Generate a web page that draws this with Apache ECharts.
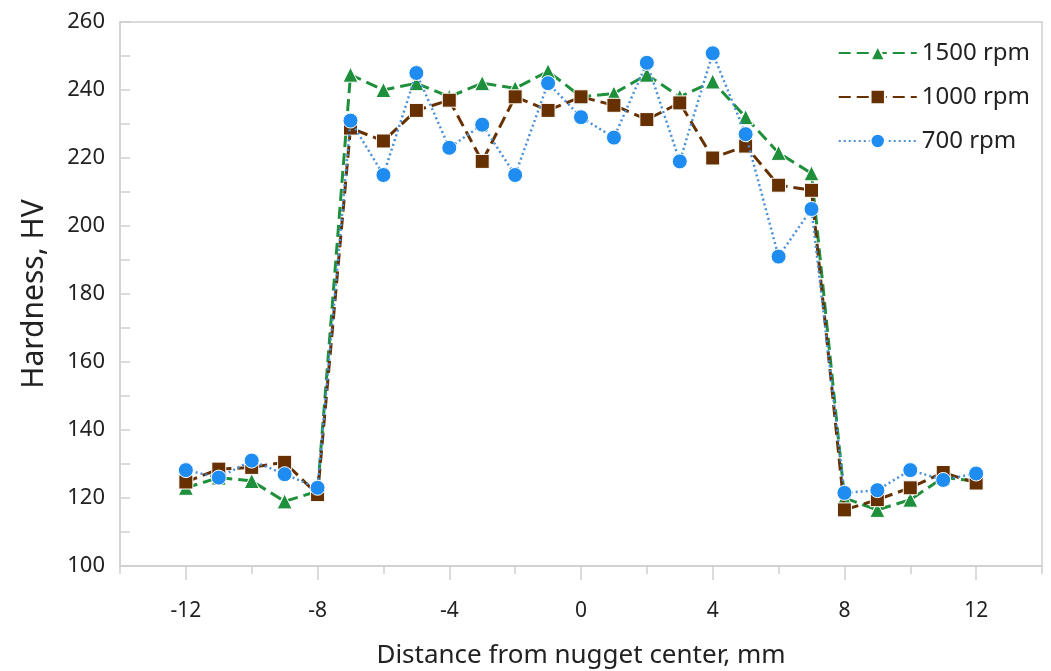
<!DOCTYPE html>
<html><head><meta charset="utf-8">
<script src="https://cdn.jsdelivr.net/npm/echarts@6/dist/echarts.min.js"></script>
<style>html,body{margin:0;padding:0;background:#fff}#c{width:1051px;height:671px}</style>
</head><body><div id="c"></div>
<script>
const distance = [-12,-11,-10,-9,-8,-7,-6,-5,-4,-3,-2,-1,0,1,2,3,4,5,6,7,8,9,10,11,12];
const rpm1500 = [123,126,125,119,122,244.5,240,242,238,242,240.5,245.5,238,239,244.5,238,242.5,232,221.5,215.5,120,116.5,119.5,126,125];
const rpm1000 = [124.7,128.5,129,130.5,121,228.8,225,234,237,219,238,234,238,235.5,231.3,236.2,220,223.5,212,210.5,116.5,119.5,123,127.5,124.4];
const rpm700  = [128.2,126,131,127,123,231,215,245,223,229.8,215,242,232,226,248,219,250.8,227,191,205,121.5,122.3,128.2,125.3,127.2];
const xLabelValues = [-12,-8,-4,0,4,8,12];
const xMinorTickValues = [-14,-10,-6,-2,2,6,10,14];
const yTickValues = [100,110,120,130,140,150,160,170,180,190,200,210,220,230,240,250,260];

const FONT = '"Noto Sans", "Open Sans", sans-serif';
const axisGray = '#d0d0d0';
const mk = (arr) => distance.map((d,i)=>[d,arr[i]]);

const chart = echarts.init(document.getElementById('c'));
chart.setOption({
  animation:false,
  backgroundColor:'#fff',
  textStyle:{fontFamily:FONT},
  grid:{left:120,right:9,top:22,bottom:105,show:true,borderColor:axisGray,borderWidth:1.5,
        containLabel:false,outerBoundsMode:'none'},
  legend:{
    orient:'vertical', right:16, top:36, itemGap:20, itemWidth:78, itemHeight:18,
    textStyle:{fontFamily:FONT,fontSize:24,color:'#222'},
    data:['1500 rpm','1000 rpm','700 rpm']
  },
  xAxis:[{
    type:'value', min:-14, max:14, interval:2,
    name:'Distance from nugget center, mm', nameLocation:'middle', nameGap:77,
    nameTextStyle:{fontFamily:FONT,fontSize:26,color:'#222'},
    axisLine:{show:true,onZero:false,lineStyle:{color:axisGray,width:1.5}},
    axisTick:{show:true,customValues:xLabelValues,length:14,lineStyle:{color:axisGray,width:1.5}},
    axisLabel:{customValues:xLabelValues,margin:35,fontFamily:FONT,fontSize:21,color:'#222'},
    splitLine:{show:false}
  },{
    type:'value', min:-14, max:14, interval:2, position:'bottom',
    axisLine:{show:false,onZero:false},
    axisTick:{show:true,customValues:xMinorTickValues,length:8,lineStyle:{color:axisGray,width:1.5}},
    axisLabel:{show:false},
    splitLine:{show:false}
  }],
  yAxis:{
    type:'value', min:100, max:260, interval:20,
    name:'Hardness, HV', nameLocation:'middle', nameGap:71,
    nameTextStyle:{fontFamily:FONT,fontSize:30,color:'#222'},
    axisLine:{show:true,onZero:false,lineStyle:{color:axisGray,width:1.5}},
    axisTick:{show:true,inside:true,customValues:yTickValues,length:10,lineStyle:{color:axisGray,width:1.5}},
    axisLabel:{margin:15,fontFamily:FONT,fontSize:22,color:'#222'},
    splitLine:{show:false}
  },
  series:[{
    name:'1500 rpm', type:'line', data:mk(rpm1500), symbol:'triangle', symbolSize:15,
    itemStyle:{color:'#1e8f3a',borderColor:'#fff',borderWidth:1},
    lineStyle:{color:'#1e8f3a',width:3,type:[12,6]}, z:2
  },{
    name:'1000 rpm', type:'line', data:mk(rpm1000), symbol:'rect', symbolSize:14,
    itemStyle:{color:'#663000',borderColor:'#fff',borderWidth:1},
    lineStyle:{color:'#663000',width:3,type:[12,6]}, z:3
  },{
    name:'700 rpm', type:'line', data:mk(rpm700), symbol:'circle', symbolSize:15,
    itemStyle:{color:'#1e8cf0',borderColor:'#fff',borderWidth:1},
    lineStyle:{color:'#4a90d9',width:2.5,type:[2,3]}, z:4
  }]
});
</script></body></html>
